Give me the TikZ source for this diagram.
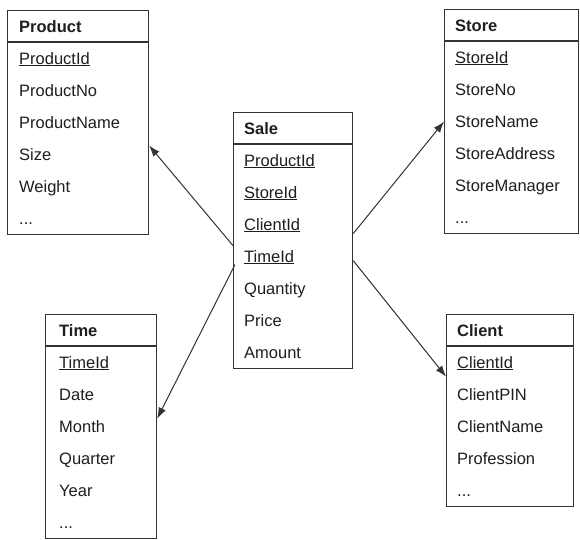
\documentclass[tikz,border=0pt]{standalone}
\usepackage{fontspec}
\setmainfont{Liberation Sans}
\usepackage{tikz}
\usetikzlibrary{arrows.meta}

\definecolor{ink}{HTML}{1E1E1E}
\definecolor{edge}{HTML}{333333}

% three dots as a row entry (plain ... would start a \foreach range)
\newcommand{\moreattrs}{...}

\tikzset{
  tab/.style={draw=edge, line width=1.2pt, anchor=north west, inner sep=0pt},
  head/.style={anchor=base west, inner sep=0pt, text=ink, font=\fontsize{16.5}{20}\selectfont\bfseries},
  attr/.style={anchor=base west, inner sep=0pt, text=ink, font=\fontsize{16.5}{20}\selectfont},
  link/.style={draw=edge, line width=1pt, -{Latex[length=11pt,width=8pt]}}
}

\begin{document}
\begin{tikzpicture}[x=1pt, y=-1pt]
			\useasboundingbox (0,0) rectangle (580,539);
			% tables: frame, title and header rule
			\node[tab, minimum width=141pt, minimum height=224pt] (product) at (7,10) {};
			\node[tab, minimum width=119pt, minimum height=256pt] (sale) at (233,112) {};
			\node[tab, minimum width=134pt, minimum height=224pt] (store) at (444,9) {};
			\node[tab, minimum width=111pt, minimum height=224pt] (time) at (45,314) {};
			\node[tab, minimum width=127pt, minimum height=192pt] (client) at (446,314) {};
			\foreach \t in {product, sale, store, time, client}
				\draw[draw=edge, line width=1.2pt] ([yshift=-32pt]\t.north west) -- ([yshift=-32pt]\t.north east);
			\node[head] (product-h) at (19,32) {Product};
			\node[head] (sale-h) at (244,134) {Sale};
			\node[head] (store-h) at (455,31) {Store};
			\node[head] (time-h) at (59,336) {Time};
			\node[head] (client-h) at (457,336) {Client};
			% attribute rows, 32pt apart
			\foreach \a [count=\i] in {\underline{ProductId}, ProductNo, ProductName, Size, Weight, \moreattrs}
				\node[attr] (product-\i) at (19, 42+32*\i-10) {\a};
			\foreach \a [count=\i] in {\underline{ProductId}, \underline{StoreId}, \underline{ClientId}, \underline{TimeId}, Quantity, Price, Amount}
				\node[attr] (sale-\i) at (244, 144+32*\i-10) {\a};
			\foreach \a [count=\i] in {\underline{StoreId}, StoreNo, StoreName, StoreAddress, StoreManager, \moreattrs}
				\node[attr] (store-\i) at (455, 41+32*\i-10) {\a};
			\foreach \a [count=\i] in {\underline{TimeId}, Date, Month, Quarter, Year, \moreattrs}
				\node[attr] (time-\i) at (59, 346+32*\i-10) {\a};
			\foreach \a [count=\i] in {\underline{ClientId}, ClientPIN, ClientName, Profession, \moreattrs}
				\node[attr] (client-\i) at (457, 346+32*\i-10) {\a};
			% references from the fact table
			\draw[link] ([yshift=-5pt]sale.west) -- ([yshift=-23pt]product.east);
			\draw[link] ([xshift=2pt,yshift=-24pt]sale.west) -- ([yshift=8pt]time.east);
			\draw[link] ([yshift=7pt]sale.east) -- (store.west);
			\draw[link] ([yshift=-20pt]sale.east) -- ([yshift=34pt]client.west);
		\end{tikzpicture}
\end{document}
